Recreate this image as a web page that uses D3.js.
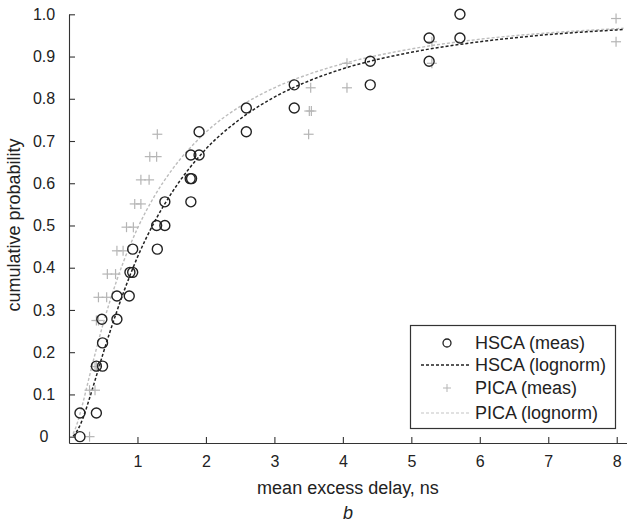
<!DOCTYPE html>
<html>
<head>
<meta charset="utf-8">
<script src="https://cdn.jsdelivr.net/npm/d3@7/dist/d3.min.js"></script>
<style>
  body { margin: 0; background: #fff; }
  svg { display: block; font-family: "Liberation Sans", Arial, sans-serif; }
</style>
</head>
<body>
<svg width="627" height="532"></svg>
<script>
// HSCA measured points (staircase corners)
var hscaX = [0.16, 0.16, 0.40, 0.40, 0.49, 0.49, 0.48, 0.70, 0.70, 0.88, 0.89, 0.93, 0.93, 1.29,
             1.28, 1.40, 1.40, 1.78, 1.77, 1.79, 1.78, 1.90, 1.90, 2.59, 2.59, 3.29, 3.29, 4.40,
             4.40, 5.26, 5.26, 5.71, 5.71];
var hscaY = [0.0, 0.056, 0.056, 0.167, 0.167, 0.222, 0.278, 0.278, 0.333, 0.333, 0.389, 0.389, 0.444, 0.444,
             0.5, 0.5, 0.556, 0.556, 0.611, 0.611, 0.667, 0.667, 0.722, 0.722, 0.778, 0.778, 0.833, 0.833,
             0.889, 0.889, 0.944, 0.944, 1.0];

// PICA measured points
var picaX = [0.30, 0.30, 0.38, 0.38, 0.40, 0.40, 0.43, 0.43, 0.55, 0.56, 0.68, 0.70, 0.79, 0.84, 0.94,
             0.96, 1.05, 1.05, 1.17, 1.18, 1.28, 1.29, 3.50, 3.51, 3.54, 3.53, 4.06, 4.06, 5.30, 5.30, 7.99, 7.99];
var picaY = [0.0, 0.11, 0.11, 0.166, 0.166, 0.275, 0.275, 0.33, 0.33, 0.385, 0.385, 0.44, 0.44, 0.496, 0.496,
             0.551, 0.551, 0.608, 0.608, 0.663, 0.663, 0.716, 0.716, 0.771, 0.771, 0.826, 0.826, 0.884, 0.884, 0.935, 0.935, 0.99];

// lognormal fit curves
var fitX    = [0.06, 0.1, 0.15, 0.2, 0.3, 0.4, 0.5, 0.6, 0.8, 1.0, 1.25, 1.5, 2, 2.5, 3, 3.5, 4, 5, 6, 7, 8, 8.1];
var hscaFit = [0.001, 0.009, 0.023, 0.042, 0.091, 0.144, 0.198, 0.249, 0.343, 0.425, 0.509, 0.577, 0.681, 0.752, 0.804, 0.842, 0.871, 0.910, 0.935, 0.952, 0.963, 0.964];
var picaFit = [0.007, 0.022, 0.048, 0.078, 0.144, 0.208, 0.268, 0.322, 0.416, 0.493, 0.570, 0.631, 0.721, 0.782, 0.826, 0.858, 0.883, 0.918, 0.941, 0.956, 0.966, 0.967];

var xTicks = [1, 2, 3, 4, 5, 6, 7, 8];
var yTicks = [0, 0.1, 0.2, 0.3, 0.4, 0.5, 0.6, 0.7, 0.8, 0.9, 1.0];

var svg = d3.select("svg");

var x = d3.scaleLinear().domain([0, 8.15]).range([69, 627]),
    y = d3.scaleLinear().domain([-0.015, 1.0]).range([443, 14.3]);

// axes
var gx = svg.append("g")
    .attr("transform", "translate(0," + y(-0.015) + ")")
    .call(d3.axisBottom(x).tickValues(xTicks).tickSizeInner(-6).tickSizeOuter(0).tickPadding(13).tickFormat(d3.format("d")));
var gy = svg.append("g")
    .attr("transform", "translate(" + x(0) + ",0)")
    .call(d3.axisLeft(y).tickValues(yTicks).tickSizeInner(-6).tickSizeOuter(0).tickPadding(13)
      .tickFormat(function(d) { return d === 0 ? "0" : d3.format(".1f")(d); }));

[gx, gy].forEach(function(g) {
  g.selectAll("path, line").attr("stroke", "#333").attr("stroke-width", 1.1);
  g.selectAll("text").attr("fill", "#222").style("font-size", "16px");
});
// y labels sit centred in the margin
gy.selectAll("text").attr("x", 44 - x(0)).attr("text-anchor", "middle");

svg.append("text")
    .attr("x", 348).attr("y", 494)
    .attr("text-anchor", "middle")
    .style("font-size", "18px").attr("fill", "#222")
    .text("mean excess delay, ns");

svg.append("text")
    .attr("transform", "translate(20,225) rotate(-90)")
    .attr("text-anchor", "middle")
    .style("font-size", "18px").attr("fill", "#222")
    .text("cumulative probability");

svg.append("text")
    .attr("x", 348).attr("y", 519)
    .attr("text-anchor", "middle")
    .style("font-size", "18px").style("font-style", "italic").attr("fill", "#222")
    .text("b");

// fit lines
var line = function(ys) {
  return d3.line()
    .x(function(d, i) { return x(fitX[i]); })
    .y(function(d) { return y(d); })
    .curve(d3.curveMonotoneX)(ys);
};

svg.append("path")
    .attr("d", line(picaFit))
    .attr("fill", "none").attr("stroke", "#bdbdbd").attr("stroke-width", 1.4)
    .attr("stroke-dasharray", "3,2");

svg.append("path")
    .attr("d", line(hscaFit))
    .attr("fill", "none").attr("stroke", "#222").attr("stroke-width", 1.5)
    .attr("stroke-dasharray", "3,2");

// PICA crosses
var cross = function(g, cx, cy, s) {
  g.append("line").attr("x1", cx - s).attr("x2", cx + s).attr("y1", cy).attr("y2", cy);
  g.append("line").attr("x1", cx).attr("x2", cx).attr("y1", cy - s).attr("y2", cy + s);
};
var gp = svg.append("g").attr("stroke", "#b5b5b5").attr("stroke-width", 1.2);
picaX.forEach(function(v, i) { cross(gp, x(v), y(picaY[i]), 5); });

// HSCA circles
svg.append("g").selectAll("circle")
    .data(hscaX)
  .enter().append("circle")
    .attr("cx", function(d) { return x(d); })
    .attr("cy", function(d, i) { return y(hscaY[i]); })
    .attr("r", 5)
    .attr("fill", "none").attr("stroke", "#222").attr("stroke-width", 1.4);

// legend
var lg = svg.append("g");
lg.append("rect")
    .attr("x", 410.5).attr("y", 325.5).attr("width", 205).attr("height", 103)
    .attr("fill", "#fff").attr("stroke", "#333").attr("stroke-width", 1.2);

var rows = [343, 365, 388, 413];
var names = ["HSCA (meas)", "HSCA (lognorm)", "PICA (meas)", "PICA (lognorm)"];
lg.append("circle").attr("cx", 447).attr("cy", rows[0]).attr("r", 4)
    .attr("fill", "none").attr("stroke", "#222").attr("stroke-width", 1.3);
lg.append("line").attr("x1", 421).attr("x2", 469).attr("y1", rows[1]).attr("y2", rows[1])
    .attr("stroke", "#222").attr("stroke-width", 1.3).attr("stroke-dasharray", "3,2");
cross(lg.append("g").attr("stroke", "#b5b5b5").attr("stroke-width", 1), 447, rows[2], 4);
lg.append("line").attr("x1", 421).attr("x2", 469).attr("y1", rows[3]).attr("y2", rows[3])
    .attr("stroke", "#c4c4c4").attr("stroke-width", 1.2).attr("stroke-dasharray", "3,2");

lg.selectAll("text.leg")
    .data(names)
  .enter().append("text")
    .attr("class", "leg")
    .attr("x", 475)
    .attr("y", function(d, i) { return rows[i]; })
    .attr("dy", "0.35em")
    .style("font-size", "18px").attr("fill", "#222")
    .text(function(d) { return d; });
</script>
</body>
</html>
